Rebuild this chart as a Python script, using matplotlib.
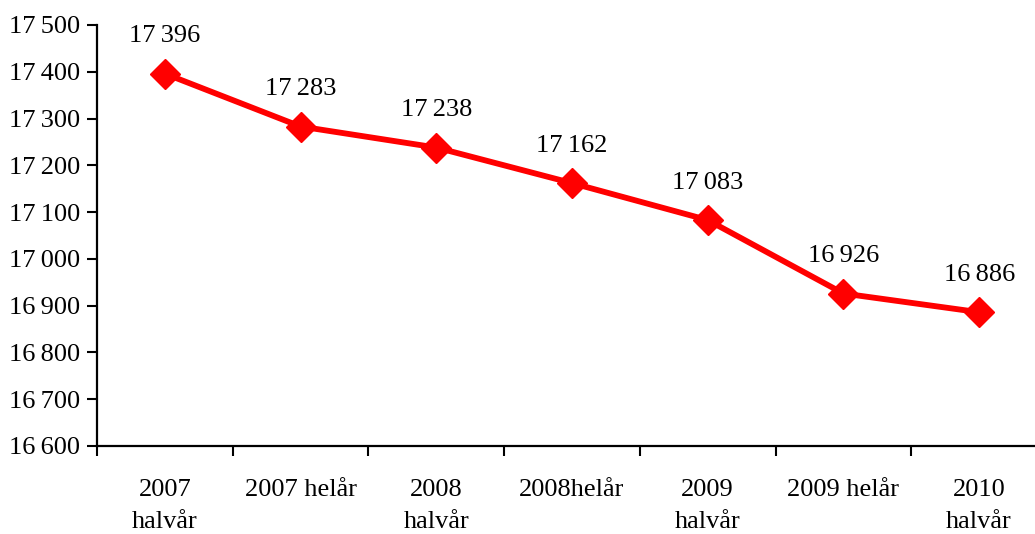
import numpy as np
import matplotlib.pyplot as plt
from matplotlib.ticker import FuncFormatter, MultipleLocator

kategorier = ['2007\nhalvår', '2007 helår', '2008\nhalvår', '2008helår',
              '2009\nhalvår', '2009 helår', '2010\nhalvår']
varden = [17396, 17283, 17238, 17162, 17083, 16926, 16886]

plt.rcParams['font.family'] = ['Liberation Serif', 'DejaVu Serif']

def tusen(v, pos=None):
    s = f'{int(round(v)):,}'
    return s.replace(',', '\u2009')

fig = plt.figure(figsize=(10.35, 5.34), dpi=100)
ax = fig.add_axes([97/1035, 88/534, 950/1035, 421/534])

x = np.arange(len(varden))
ax.plot(x, varden, color='#ff0000', lw=4.2, marker='D', markersize=15,
        markeredgecolor='#ff0000', markerfacecolor='#ff0000', clip_on=False)
for xi, v in zip(x, varden):
    ax.annotate(tusen(v), (xi, v), xytext=(0, 19), textcoords='offset points',
                ha='center', va='bottom', fontsize=19)

ax.set_xlim(-0.5, 6.5)
ax.set_ylim(16600, 17500)
ax.yaxis.set_major_locator(MultipleLocator(100))
ax.yaxis.set_major_formatter(FuncFormatter(tusen))
ax.set_xticks(x)
ax.set_xticklabels(kategorier, fontsize=19, linespacing=1.55)
ax.set_xticks(np.arange(-0.5, 7, 1), minor=True)
ax.tick_params(axis='x', which='major', length=0, pad=24)
ax.tick_params(axis='x', which='minor', length=7, width=1.5, direction='out')
ax.tick_params(axis='y', length=7, width=1.5, direction='out', labelsize=19, pad=5)

for side in ['top', 'right']:
    ax.spines[side].set_visible(False)
for side in ['left', 'bottom']:
    ax.spines[side].set_linewidth(1.6)

fig.savefig('out.png', dpi=100)
